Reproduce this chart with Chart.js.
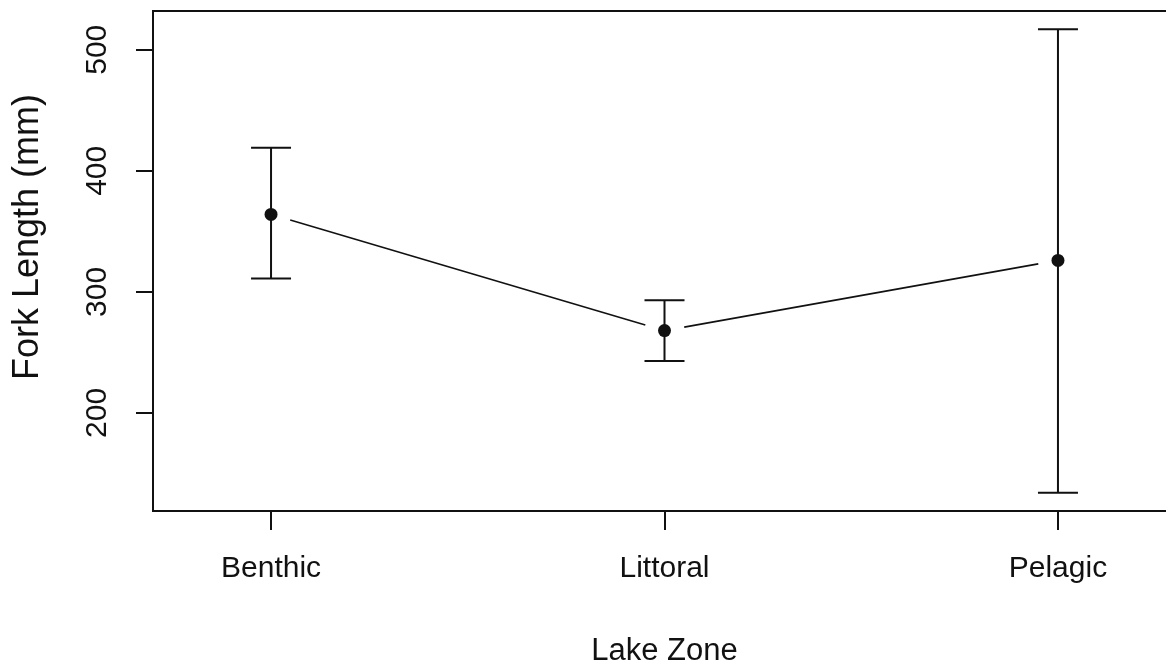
<!DOCTYPE html>
<html>
<head>
<meta charset="utf-8">
<title>Fork Length by Lake Zone</title>
<script src="https://cdn.jsdelivr.net/npm/chart.js@4.4.1/dist/chart.umd.min.js"></script>
<style>
  html, body { margin: 0; padding: 0; background: #fff; overflow: hidden; }
  #wrap { width: 1190px; height: 669px; position: relative; }
</style>
</head>
<body>
<div id="wrap"><canvas id="chart"></canvas></div>
<script>
// Mean fork length per lake zone with the upper and lower ends of each interval
const zones = ['Benthic', 'Littoral', 'Pelagic'];
const meanLength = [364, 268, 326];
const upperLength = [419, 293, 517];
const lowerLength = [311, 243, 134];
const yTickValues = [200, 300, 400, 500];
const xLimits = [0.7, 3.3];
const yLimits = [119, 532];
const xTitle = 'Lake Zone';
const yTitle = 'Fork Length (mm)';

const FONT = "'Liberation Sans', Arial, sans-serif";
const INK = '#111';

const points = zones.map((z, i) => ({ x: i + 1, y: meanLength[i] }));

// Box around the plotting region
const frame = {
  id: 'frame',
  afterDraw(chart) {
    const { ctx, chartArea: a } = chart;
    ctx.save();
    ctx.strokeStyle = INK;
    ctx.lineWidth = 2;
    ctx.strokeRect(a.left, a.top, a.right - a.left, a.bottom - a.top);
    ctx.restore();
  }
};

// Whiskers with caps, and the connecting line broken around each point
const whiskers = {
  id: 'whiskers',
  beforeDatasetsDraw(chart) {
    const { ctx, scales: { x, y } } = chart;
    const cap = 20, gap = 20;
    ctx.save();
    ctx.strokeStyle = INK;
    ctx.lineWidth = 2;
    zones.forEach((z, i) => {
      const px = x.getPixelForValue(i + 1);
      const top = y.getPixelForValue(upperLength[i]);
      const bot = y.getPixelForValue(lowerLength[i]);
      ctx.beginPath();
      ctx.moveTo(px, top); ctx.lineTo(px, bot);
      ctx.moveTo(px - cap, top); ctx.lineTo(px + cap, top);
      ctx.moveTo(px - cap, bot); ctx.lineTo(px + cap, bot);
      ctx.stroke();
    });
    ctx.lineWidth = 1.6;
    for (let i = 0; i < zones.length - 1; i++) {
      const x0 = x.getPixelForValue(i + 1), y0 = y.getPixelForValue(meanLength[i]);
      const x1 = x.getPixelForValue(i + 2), y1 = y.getPixelForValue(meanLength[i + 1]);
      const len = Math.hypot(x1 - x0, y1 - y0);
      const ux = (x1 - x0) / len, uy = (y1 - y0) / len;
      ctx.beginPath();
      ctx.moveTo(x0 + ux * gap, y0 + uy * gap);
      ctx.lineTo(x1 - ux * gap, y1 - uy * gap);
      ctx.stroke();
    }
    ctx.restore();
  }
};

// Vertical axis title
const yAxisTitle = {
  id: 'yAxisTitle',
  afterDraw(chart) {
    const { ctx } = chart;
    ctx.save();
    ctx.translate(28, 237);
    ctx.rotate(-Math.PI / 2);
    ctx.font = '36px ' + FONT;
    ctx.fillStyle = INK;
    ctx.textAlign = 'center';
    ctx.textBaseline = 'middle';
    ctx.fillText(yTitle, 0, 0);
    ctx.restore();
  }
};

new Chart(document.getElementById('chart'), {
  type: 'line',
  data: {
    datasets: [{
      data: points,
      showLine: false,
      pointRadius: 6.5,
      pointHoverRadius: 6.5,
      pointBackgroundColor: INK,
      pointBorderWidth: 0
    }]
  },
  options: {
    responsive: true,
    maintainAspectRatio: false,
    animation: false,
    events: [],
    layout: { padding: { top: 11, right: 14, left: 0, bottom: 0 } },
    plugins: { legend: { display: false }, tooltip: { enabled: false } },
    scales: {
      x: {
        type: 'linear',
        min: xLimits[0],
        max: xLimits[1],
        afterBuildTicks: s => { s.ticks = zones.map((z, i) => ({ value: i + 1 })); },
        afterFit: s => { s.height = 158; s.paddingLeft = 0; s.paddingRight = 0; },
        ticks: {
          callback: v => zones[v - 1] ?? '',
          font: { family: FONT, size: 30 },
          color: INK,
          padding: 21,
          maxRotation: 0,
          autoSkip: false
        },
        grid: { drawOnChartArea: false, drawTicks: true, tickLength: 19, lineWidth: 2, color: INK },
        border: { display: false },
        title: {
          display: true,
          text: xTitle,
          color: INK,
          font: { family: FONT, size: 31, lineHeight: 1 },
          padding: { top: 0, bottom: 2 }
        }
      },
      y: {
        type: 'linear',
        min: yLimits[0],
        max: yLimits[1],
        afterBuildTicks: s => { s.ticks = yTickValues.map(v => ({ value: v })); },
        afterFit: s => { s.width = 153; s.paddingTop = 0; s.paddingBottom = 0; },
        ticks: {
          font: { family: FONT, size: 30 },
          color: INK,
          padding: 13,
          minRotation: 90,
          maxRotation: 90,
          crossAlign: 'center'
        },
        grid: { drawOnChartArea: false, drawTicks: true, tickLength: 17, lineWidth: 2, color: INK },
        border: { display: false }
      }
    }
  },
  plugins: [whiskers, frame, yAxisTitle]
});
</script>
</body>
</html>
